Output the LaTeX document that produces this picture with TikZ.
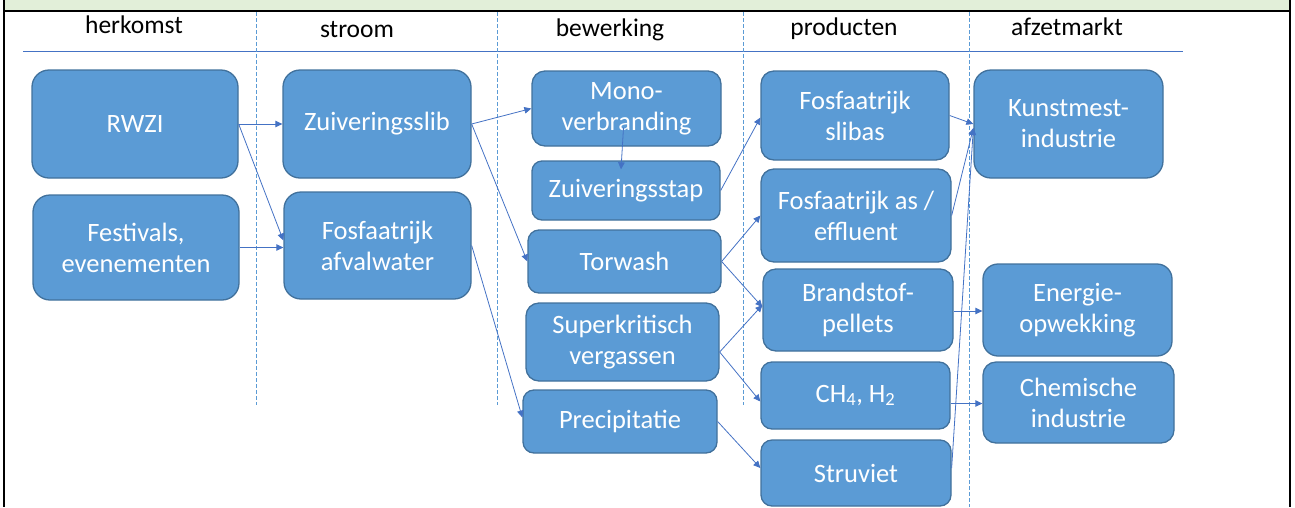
\documentclass[tikz,border=0pt]{standalone}
\usepackage{fontspec}
\setmainfont{Carlito}
\usepackage{xcolor}
\usetikzlibrary{arrows.meta}
\definecolor{blokblauw}{HTML}{5B9BD5}
\definecolor{randblauw}{HTML}{41719C}
\definecolor{lijnblauw}{HTML}{4472C4}
\definecolor{bandgroen}{HTML}{E2EFD9}
\begin{document}
\begin{tikzpicture}[x=1pt, y=-1pt,
  blok/.style={draw=randblauw, line width=1.3pt, fill=blokblauw, text=white, align=center,
    rounded corners=13pt, inner sep=0pt, font=\fontsize{26.5}{31}\selectfont},
  kop/.style={anchor=base, font=\fontsize{25.5}{30}\selectfont},
  scheid/.style={draw=blokblauw, line width=0.8pt, dash pattern=on 4pt off 2pt},
  pijl/.style={draw=lijnblauw, line width=0.8pt, -{Triangle[length=7pt,width=6.5pt]}}]
\useasboundingbox (0,0) rectangle (1295,507);
% kader en kolomkoppen
\fill[bandgroen] (4,0) rectangle (1290,11);
\draw[line width=2.2pt] (4,0) -- (4,507) (1290,0) -- (1290,507) (3,11) -- (1291,11);
\draw[lijnblauw, line width=1pt] (23,51) -- (1183,51);
\foreach \x in {256,497,743} \draw[scheid] (\x,12) -- (\x,405);
\draw[scheid] (969,12) -- (969,507);
\node[kop] (k1) at (134,33) {herkomst};
\node[kop] (k2) at (357,37) {stroom};
\node[kop] (k3) at (610,36) {bewerking};
\node[kop] (k4) at (844,35) {producten};
\node[kop] (k5) at (1067,35) {afzetmarkt};
% herkomst
\node[blok, rounded corners=17pt, minimum width=206pt, minimum height=108pt] (rwzi) at (135,124) {RWZI};
\node[blok, rounded corners=17pt, minimum width=206pt, minimum height=105pt] (fest) at (136,247.5) {Festivals,\\evenementen};
% stroom
\node[blok, rounded corners=17pt, minimum width=188pt, minimum height=108pt] (slib) at (377,124) {Zuiveringsslib};
\node[blok, rounded corners=17pt, minimum width=187pt, minimum height=107pt] (afval) at (377.5,245.5) {Fosfaatrijk\\afvalwater};
% bewerking
\node[blok, minimum width=189pt, minimum height=75pt] (mono) at (626.5,108.5) {Mono-\\verbranding};
\node[blok, rounded corners=10pt, minimum width=188pt, minimum height=59pt] (zstap) at (626,190.5) {Zuiveringsstap};
\node[blok, rounded corners=11pt, minimum width=193pt, minimum height=63pt] (torw) at (624.5,261.5) {Torwash};
\node[blok, minimum width=193pt, minimum height=78pt] (superk) at (622.5,342) {Superkritisch\\vergassen};
\node[blok, rounded corners=11pt, minimum width=194pt, minimum height=63pt] (precip) at (620,421.5) {Precipitatie};
% producten
\node[blok, minimum width=188pt, minimum height=89pt] (slibas) at (855,115.5) {Fosfaatrijk\\slibas};
\node[blok, minimum width=190pt, minimum height=93pt] (aseff) at (856,215.5) {Fosfaatrijk as /\\effluent};
\node[blok, minimum width=190pt, minimum height=82pt] (pellets) at (858,310) {Brandstof-\\pellets};
\node[blok, rounded corners=11pt, minimum width=189pt, minimum height=67pt] (ch4) at (855.5,395.5) {CH\textsubscript{4}, H\textsubscript{2}};
\node[blok, rounded corners=11pt, minimum width=190pt, minimum height=66pt] (struv) at (856,473) {Struviet};
% afzetmarkt
\node[blok, rounded corners=17pt, minimum width=189pt, minimum height=108pt] (kunst) at (1068.5,124) {Kunstmest-\\industrie};
\node[blok, rounded corners=15pt, minimum width=189pt, minimum height=92pt] (energie) at (1077.5,310) {Energie-\\opwekking};
\node[blok, minimum width=191pt, minimum height=81pt] (chem) at (1078.5,402.5) {Chemische\\industrie};
% verbindingen
\draw[pijl] (rwzi.east) -- (slib.west);
\draw[pijl] (rwzi.east) -- ([yshift=5pt]afval.west);
\draw[pijl] (fest.east) -- (fest.east -| afval.west);
\draw[pijl] (slib.east) -- (mono.west);
\draw[pijl] (slib.east) -- (torw.west);
\draw[pijl] ([xshift=-3pt,yshift=19pt]mono.south) -- ([xshift=-5pt,yshift=-9pt]zstap.north);
\draw[pijl] (afval.east) -- ([yshift=4pt]precip.west);
\draw[pijl] (zstap.east) -- ([yshift=-2pt]slibas.west);
\draw[pijl] (torw.east) -- (aseff.west);
\draw[pijl] (torw.east) -- ([yshift=3pt]pellets.west);
\draw[pijl] ([yshift=-10pt]superk.east) -- ([yshift=5pt]pellets.west);
\draw[pijl] ([yshift=-10pt]superk.east) -- ([yshift=-6pt]ch4.west);
\draw[pijl] (precip.east) -- ([yshift=5pt]struv.west);
\draw[pijl] (slibas.east) -- (kunst.west);
\draw[pijl] (aseff.east) -- ([yshift=-4pt]kunst.west);
\draw[pijl] ([yshift=5pt]struv.east) -- ([yshift=-4pt]kunst.west);
\draw[pijl] ([yshift=-1pt]pellets.east) -- ([yshift=-1pt]pellets.east -| energie.west);
\draw[pijl] ([yshift=-8pt]ch4.east) -- ([yshift=-8pt]ch4.east -| chem.west);
\end{tikzpicture}
\end{document}
